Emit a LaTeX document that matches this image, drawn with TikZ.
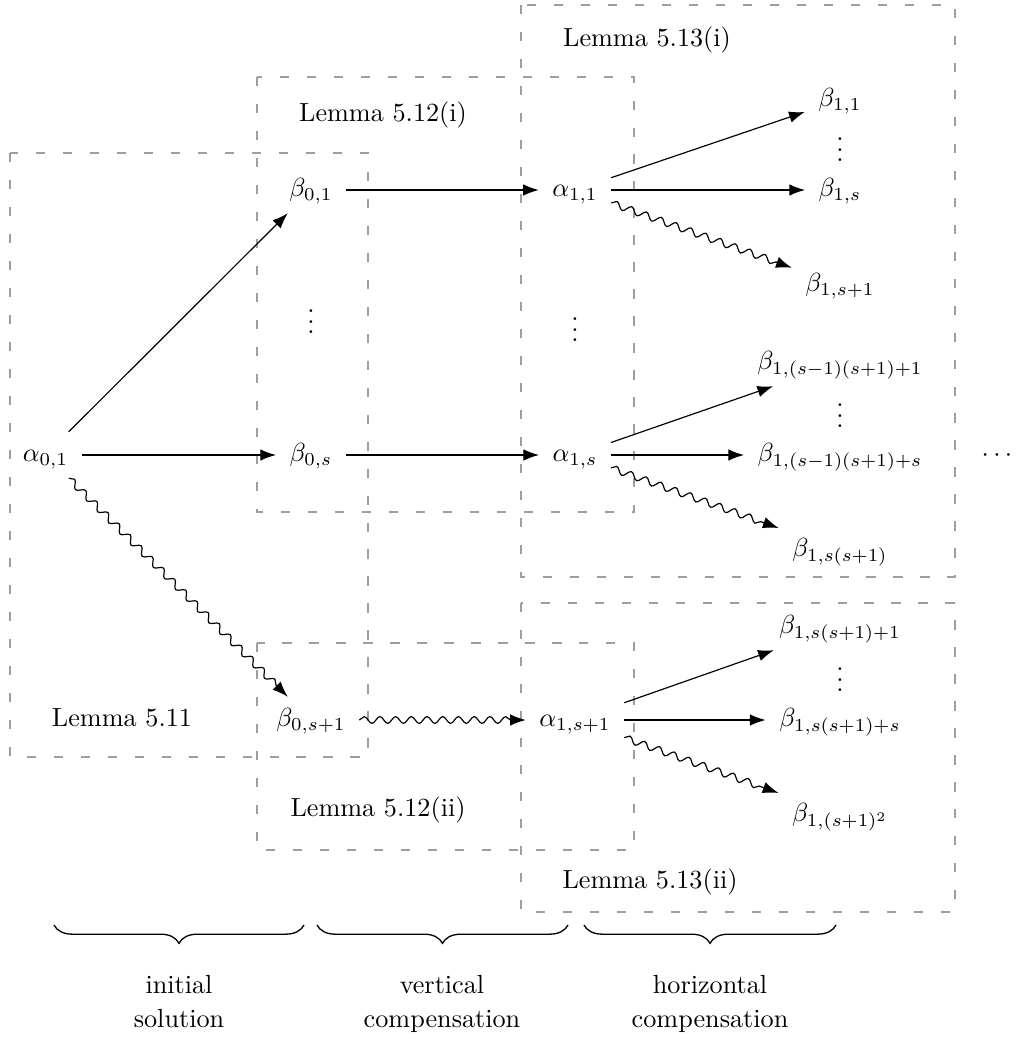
\documentclass[tikz,border=0pt]{standalone}
\usetikzlibrary{arrows.meta,decorations.pathmorphing,decorations.pathreplacing}
\begin{document}
\begin{tikzpicture}[x=0.3817pt,y=-0.3817pt,
  cell/.style={inner xsep=5pt, inner ysep=0.85ex, text height=7.5pt, text depth=2.5pt},
  box/.style={draw=black!38, line width=0.4pt, dash pattern=on 3.5pt off 6.8pt},
  arr/.style={-{Latex[length=6pt,width=4.4pt]}, line width=0.45pt},
  sq/.style={arr, decorate, decoration={snake, amplitude=1.3pt, segment length=6pt, post length=5pt}},
  br/.style={decorate, decoration={brace, mirror, amplitude=7pt}, line width=0.5pt},
  brlabel/.style={inner sep=0pt, anchor=north, align=center}]
\useasboundingbox (0,0) rectangle (1016,1039);

% dashed boxes
\draw[box] (10,153) rectangle (368,757);
\draw[box] (257,77) rectangle (634,512);
\draw[box] (521,5) rectangle (955,577);
\draw[box] (257,643) rectangle (634,850);
\draw[box] (521,603) rectangle (955,912);

% box labels
\node[cell] (l511) at (122,720) {Lemma 5.11};
\node[cell] (l512i) at (383,115) {Lemma 5.12(i)};
\node[cell] (l513i) at (647,40) {Lemma 5.13(i)};
\node[cell] (l512ii) at (378,810) {Lemma 5.12(ii)};
\node[cell] (l513ii) at (650,882) {Lemma 5.13(ii)};

% column 1
\node[cell] (a01) at (45.5,455) {$\alpha_{0,1}$};
% column 2
\node[cell] (b01) at (311,190) {$\beta_{0,1}$};
\node[cell] (vd2) at (311,327) {$\vdots$};
\node[cell] (b0s) at (311,455) {$\beta_{0,s}$};
\node[cell] (b0s1) at (311,720) {$\beta_{0,s+1}$};
% column 3
\node[cell] (a11) at (575,190) {$\alpha_{1,1}$};
\node[cell] (vd3) at (575,335) {$\vdots$};
\node[cell] (a1s) at (575,455) {$\alpha_{1,s}$};
\node[cell] (a1s1) at (575,720) {$\alpha_{1,s+1}$};
% column 4
\node[cell] (b11) at (840,100) {$\beta_{1,1}$};
\node[cell] (vd4a) at (840,155) {$\vdots$};
\node[cell] (b1s) at (840,190) {$\beta_{1,s}$};
\node[cell] (b1s1) at (840,285) {$\beta_{1,s+1}$};
\node[cell] (b1g1) at (840,363) {$\beta_{1,(s-1)(s+1)+1}$};
\node[cell] (vd4b) at (840,421) {$\vdots$};
\node[cell] (b1gs) at (840,455) {$\beta_{1,(s-1)(s+1)+s}$};
\node[cell] (b1ss) at (840,550) {$\beta_{1,s(s+1)}$};
\node[cell] (b1h1) at (840,627) {$\beta_{1,s(s+1)+1}$};
\node[cell] (vd4c) at (840,685) {$\vdots$};
\node[cell] (b1hs) at (840,720) {$\beta_{1,s(s+1)+s}$};
\node[cell] (b1sq) at (840,815) {$\beta_{1,(s+1)^2}$};
% column 5
\node[cell] (dots) at (997,455) {$\cdots$};

% arrows
\draw[arr] (a01) -- (b01);
\draw[arr] (a01) -- (b0s);
\draw[sq] (a01) -- (b0s1);
\draw[arr] (b01) -- (a11);
\draw[arr] (b0s) -- (a1s);
\draw[sq] (b0s1) -- (a1s1);
\draw[arr] (a11) -- (b11);
\draw[arr] (a11) -- (b1s);
\draw[sq] (a11) -- (b1s1);
\draw[arr] (a1s) -- (b1g1);
\draw[arr] (a1s) -- (b1gs);
\draw[sq] (a1s) -- (b1ss);
\draw[arr] (a1s1) -- (b1h1);
\draw[arr] (a1s1) -- (b1hs);
\draw[sq] (a1s1) -- (b1sq);

% braces
\coordinate (br1a) at (54,925);
\coordinate (br1b) at (304,925);
\coordinate (br2a) at (317,925);
\coordinate (br2b) at (568,925);
\coordinate (br3a) at (584,925);
\coordinate (br3b) at (836,925);
\draw[br] (br1a) -- (br1b);
\draw[br] (br2a) -- (br2b);
\draw[br] (br3a) -- (br3b);
\node[brlabel] (t1) at (179,975) {initial\\[1pt]solution};
\node[brlabel] (t2) at (442,975) {vertical\\[1pt]compensation};
\node[brlabel] (t3) at (710,975) {horizontal\\[1pt]compensation};
\end{tikzpicture}
\end{document}
